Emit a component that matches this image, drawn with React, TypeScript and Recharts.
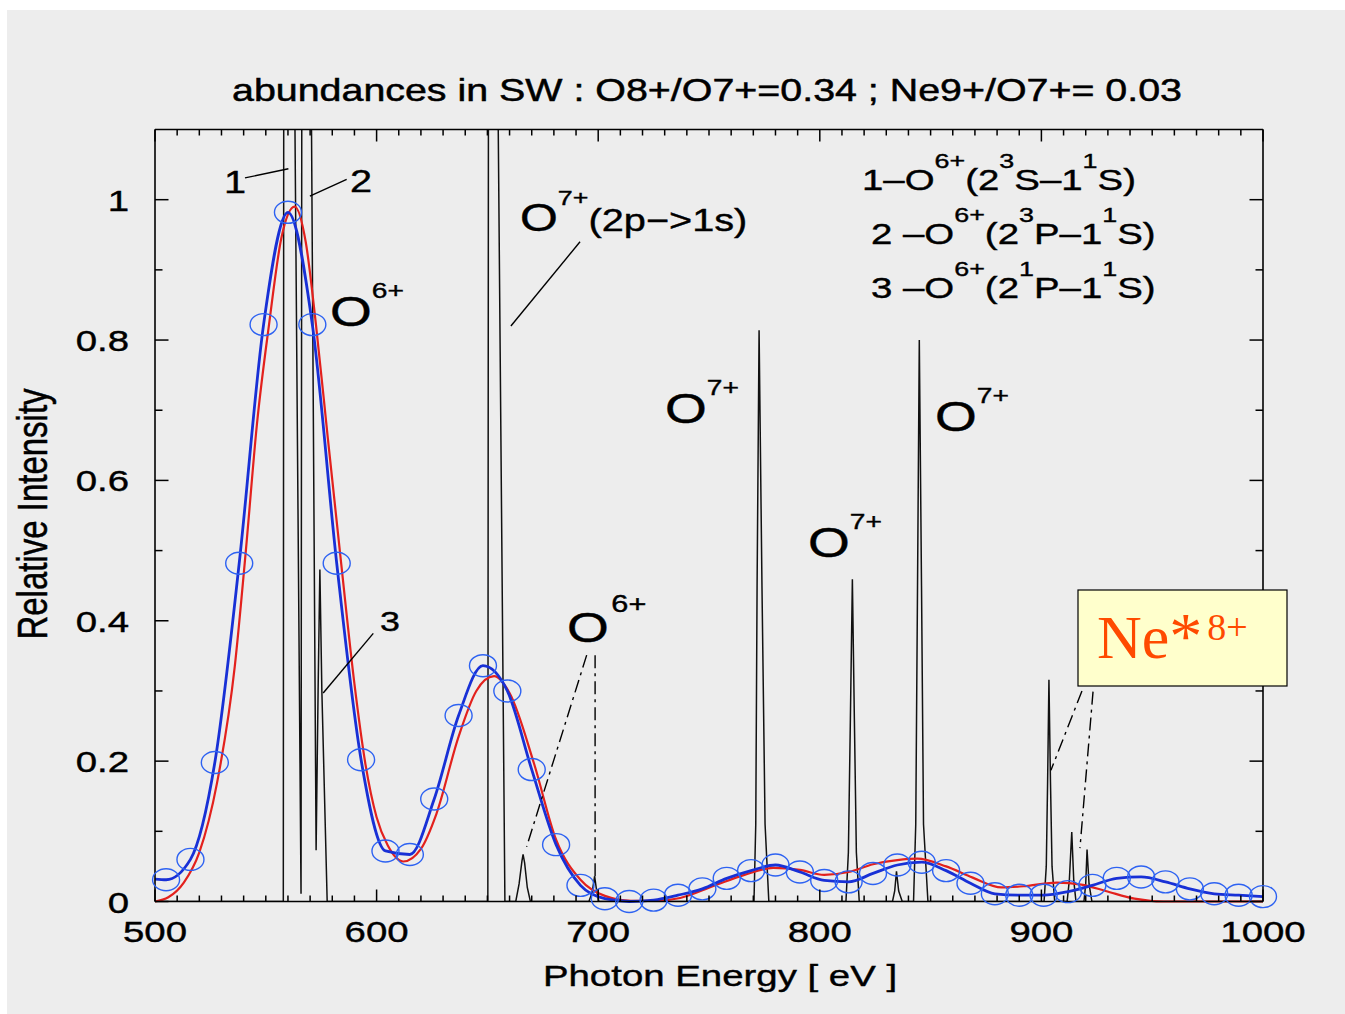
import React from 'react';
import { ComposedChart, Line, XAxis, YAxis, ReferenceLine } from 'recharts';

// ---------------- data ----------------
// Blue curve (with circle markers), photon energy in eV
const blueEnergy = [500, 505, 516, 527, 538, 549, 560, 571, 582, 593, 604, 615, 626, 637, 648, 659, 670, 681, 692, 703, 714, 725, 736, 747, 758, 769, 780, 791, 802, 813, 824, 835, 846, 857, 868, 879, 890, 901, 912, 923, 934, 945, 956, 967, 978, 989, 1000];
const blueIntensity = [0.032, 0.031, 0.060, 0.198, 0.482, 0.822, 0.982, 0.822, 0.482, 0.202, 0.072, 0.067, 0.146, 0.265, 0.336, 0.300, 0.188, 0.081, 0.023, 0.004, 0.000, 0.002, 0.009, 0.018, 0.033, 0.044, 0.052, 0.042, 0.030, 0.028, 0.040, 0.052, 0.056, 0.044, 0.026, 0.011, 0.009, 0.009, 0.014, 0.023, 0.033, 0.035, 0.028, 0.018, 0.011, 0.009, 0.007];

// Red curve
const redEnergy = [500, 506, 513, 520, 528, 536, 541, 546, 551.5, 557, 563, 568, 572.6, 578, 584, 590, 595, 600, 605, 612, 620, 627, 637, 645, 653, 660, 671, 681, 692, 703, 715, 726, 737, 752, 766, 779, 791, 802, 813, 824, 835, 844, 857, 869, 882, 893, 907, 918, 929, 942, 955, 1000];
const redIntensity = [0.000, 0.006, 0.027, 0.070, 0.169, 0.335, 0.500, 0.680, 0.823, 0.945, 0.990, 0.940, 0.823, 0.660, 0.482, 0.310, 0.195, 0.120, 0.080, 0.057, 0.075, 0.125, 0.235, 0.300, 0.321, 0.297, 0.197, 0.088, 0.031, 0.008, 0.001, 0.001, 0.005, 0.022, 0.038, 0.048, 0.045, 0.038, 0.042, 0.053, 0.059, 0.061, 0.050, 0.034, 0.020, 0.022, 0.027, 0.024, 0.015, 0.004, 0.000, 0.000];

// Black high-resolution line spectrum
const spectrumEnergy = [500, 557.9, 558.4, 565.9, 566.8, 572.7, 573.6, 574.4, 575.3, 577.7, 650.2, 650.8, 657.9, 662.8, 664.3, 665.6, 666.1, 666.8, 668.0, 669.4, 695.8, 697.2, 698.4, 699.3, 700.3, 770.3, 771.1, 771.7, 772.6, 773.9, 775.3, 777.0, 811.8, 812.9, 813.8, 814.7, 815.6, 816.5, 817.8, 832.8, 833.8, 834.6, 835.6, 837.2, 842.3, 843.3, 844.1, 844.9, 845.9, 846.8, 848.8, 901.2, 902.2, 902.8, 903.4, 904.1, 904.8, 906.0, 911.6, 912.6, 913.7, 914.6, 915.6, 919.2, 920.0, 920.6, 921.5, 922.8, 1000];
const spectrumIntensity = [0, 0, 3.0, 0.011, 3.0, 0.073, 0.30, 0.473, 0.30, 0, 0, 2.6, 0, 0, 0.025, 0.058, 0.067, 0.055, 0.02, 0, 0, 0.012, 0.036, 0.015, 0, 0, 0.11, 0.45, 0.814, 0.45, 0.11, 0, 0, 0.07, 0.26, 0.459, 0.26, 0.07, 0, 0, 0.015, 0.043, 0.015, 0, 0, 0.11, 0.45, 0.800, 0.45, 0.11, 0, 0, 0.05, 0.17, 0.316, 0.17, 0.05, 0, 0, 0.03, 0.099, 0.03, 0, 0, 0.025, 0.074, 0.025, 0, 0];

// ticks
const xMajorTicks = [500, 600, 700, 800, 900, 1000];
const xMinorTicks = [510, 520, 530, 540, 550, 560, 570, 580, 590, 610, 620, 630, 640, 650, 660, 670, 680, 690, 710, 720, 730, 740, 750, 760, 770, 780, 790, 810, 820, 830, 840, 850, 860, 870, 880, 890, 910, 920, 930, 940, 950, 960, 970, 980, 990];
const yMajorTicks = [0, 0.2, 0.4, 0.6, 0.8, 1];
const yMinorTicks = [0.1, 0.3, 0.5, 0.7, 0.9];
const yTickLabels = ['0', '0.2', '0.4', '0.6', '0.8', '1'];

// annotation leader lines [x1, y1, x2, y2] in data units
const solidLeaders = [
  [540.6, 1.031, 560.2, 1.044],
  [569.9, 1.005, 586.5, 1.029],
  [691.8, 0.940, 660.6, 0.820],
  [598.5, 0.382, 575.9, 0.297],
];
const dashLeaders = [
  [694.8, 0.351, 667.7, 0.078],
  [698.6, 0.351, 698.6, 0.026],
  [918.3, 0.300, 904.3, 0.187],
  [923.3, 0.299, 917.4, 0.076],
];

// ---------------- style ----------------
const SANS = '"Liberation Sans", Arial, Helvetica, sans-serif';
const SERIF = '"Liberation Serif", "Times New Roman", serif';
const SX = 1.28;
const INK = '#000';
const axisStyle = { stroke: INK, strokeWidth: 1.6 };

const xTicks = [...xMajorTicks, ...xMinorTicks].sort((a, b) => a - b);
const yTicks = [...yMajorTicks, ...yMinorTicks].sort((a, b) => a - b);

const BottomTick = (p: any) => {
  const v = p.payload.value;
  const major = xMajorTicks.includes(v);
  return (
    <g>
      <line x1={p.x} y1={p.y} x2={p.x} y2={p.y - (major ? 12 : 6)} stroke={INK} strokeWidth={1.5} />
      {major && (
        <text transform={`translate(${p.x} ${p.y + 40}) scale(${SX} 1)`} textAnchor="middle" fontSize={30} fontFamily={SANS} fill={INK} stroke={INK} strokeWidth={0.4}>
          {String(v)}
        </text>
      )}
    </g>
  );
};
const TopTick = (p: any) => {
  const major = xMajorTicks.includes(p.payload.value);
  return <line x1={p.x} y1={p.y} x2={p.x} y2={p.y + (major ? 12 : 6)} stroke={INK} strokeWidth={1.5} />;
};
const LeftTick = (p: any) => {
  const i = yMajorTicks.indexOf(p.payload.value);
  return (
    <g>
      <line x1={p.x} y1={p.y} x2={p.x + (i >= 0 ? 13.5 : 7.5)} y2={p.y} stroke={INK} strokeWidth={1.5} />
      {i >= 0 && (
        <text transform={`translate(${p.x - 26} ${p.y + 11}) scale(${SX} 1)`} textAnchor="end" fontSize={30} fontFamily={SANS} fill={INK} stroke={INK} strokeWidth={0.4}>
          {yTickLabels[i]}
        </text>
      )}
    </g>
  );
};
const RightTick = (p: any) => {
  const major = yMajorTicks.includes(p.payload.value);
  return <line x1={p.x} y1={p.y} x2={p.x - (major ? 13.5 : 7.5)} y2={p.y} stroke={INK} strokeWidth={1.5} />;
};

const renderEllipse = (p: any) => {
  const k = `e${p.index}`;
  if (!p.payload || p.payload.x === 500) return <g key={k} />;
  return <ellipse key={k} cx={p.cx} cy={p.cy} rx={13.5} ry={11} fill="none" stroke="#2d62f2" strokeWidth={1.4} />;
};

// parts: [text, isSuperscript, optional font size]
type Part = [string, boolean, number?];
function Rich({ x, y, size, parts, sx = SX, supSize, raise, fill = INK, family = SANS, thick = 0.4, supDx = 0 }: any) {
  let up = false;
  const sup = supSize ?? size * 0.7;
  const r = raise ?? size * 0.72;
  const spans = (parts as Part[]).map(([t, s, fs], i) => {
    let dy: number | undefined;
    if (s && !up) { dy = -r; up = true; }
    else if (!s && up) { dy = r; up = false; }
    return (
      <tspan key={i} dy={dy} dx={s && supDx ? supDx : undefined} fontSize={fs ?? (s ? sup : size)}>{t}</tspan>
    );
  });
  return (
    <text transform={`translate(${x} ${y}) scale(${sx} 1)`} fontSize={size} fontFamily={family} fill={fill} stroke={thick ? fill : 'none'} strokeWidth={thick}>
      {spans}
    </text>
  );
}

export default function App() {
  const blueData = blueEnergy.map((x, i) => ({ x, y: blueIntensity[i] }));
  const redData = redEnergy.map((x, i) => ({ x, y: redIntensity[i] }));
  const spectrumData = spectrumEnergy.map((x, i) => ({ x, y: spectrumIntensity[i] }));

  return (
    <div style={{ position: 'fixed', left: 0, top: 0, width: 1345, height: 1014, background: '#fff', overflow: 'hidden' }}>
      <div style={{ position: 'absolute', left: 7, top: 10, width: 1338, height: 1004, background: '#ededed' }} />
      <div style={{ position: 'absolute', left: 0, top: 0 }}>
        <ComposedChart width={1345} height={1014} margin={{ left: 55, right: 72, top: 119.5, bottom: 52.5 }}>
          <XAxis xAxisId="b" type="number" dataKey="x" domain={[500, 1000]} ticks={xTicks} interval={0}
            tickSize={0} tickMargin={0} tickLine={false} tick={BottomTick} height={60} axisLine={axisStyle} />
          <XAxis xAxisId="t" orientation="top" type="number" dataKey="x" domain={[500, 1000]} ticks={xTicks} interval={0}
            tickSize={0} tickMargin={0} tickLine={false} tick={TopTick} height={10} axisLine={axisStyle} allowDataOverflow />
          <YAxis yAxisId="l" type="number" domain={[0, 1.1]} ticks={yTicks} interval={0}
            tickSize={0} tickMargin={0} tickLine={false} tick={LeftTick} width={100} axisLine={axisStyle} />
          <YAxis yAxisId="r" orientation="right" type="number" domain={[0, 1.1]} ticks={yTicks} interval={0}
            tickSize={0} tickMargin={0} tickLine={false} tick={RightTick} width={10} axisLine={axisStyle} allowDataOverflow />
          <YAxis yAxisId="c" type="number" domain={[0, 1.1]} hide width={0} allowDataOverflow />

          <Line xAxisId="b" yAxisId="c" data={spectrumData} dataKey="y" type="linear" stroke="#111" strokeWidth={1.5}
            dot={false} activeDot={false} isAnimationActive={false} />
          <Line xAxisId="b" yAxisId="l" data={redData} dataKey="y" type="monotone" stroke="#e3211d" strokeWidth={2.2}
            dot={false} activeDot={false} isAnimationActive={false} />
          <Line xAxisId="b" yAxisId="l" data={blueData} dataKey="y" type="monotone" stroke="#1830d6" strokeWidth={2.8}
            dot={renderEllipse} activeDot={false} isAnimationActive={false} />

          {solidLeaders.map((s, i) => (
            <ReferenceLine key={`s${i}`} xAxisId="b" yAxisId="l" ifOverflow="visible"
              segment={[{ x: s[0], y: s[1] }, { x: s[2], y: s[3] }]} stroke={INK} strokeWidth={1.4} />
          ))}
          {dashLeaders.map((s, i) => (
            <ReferenceLine key={`d${i}`} xAxisId="b" yAxisId="l" ifOverflow="visible"
              segment={[{ x: s[0], y: s[1] }, { x: s[2], y: s[3] }]} stroke={INK} strokeWidth={1.4} strokeDasharray="13 5 3 5" />
          ))}
        </ComposedChart>
      </div>

      <svg style={{ position: 'absolute', left: 0, top: 0 }} width={1345} height={1014}>
        {/* title */}
        <text x={232} y={101} fontSize={32} fontFamily={SANS} textLength={950} lengthAdjust="spacingAndGlyphs" fill={INK} stroke={INK} strokeWidth={0.5}>
          abundances in SW : O8+/O7+=0.34 ; Ne9+/O7+= 0.03
        </text>
        {/* axis titles */}
        <text transform={`translate(720 986) scale(${SX} 1)`} textAnchor="middle" fontSize={30} fontFamily={SANS} fill={INK} stroke={INK} strokeWidth={0.4}>
          Photon Energy [ eV ]
        </text>
        <text transform={`translate(47 514) scale(${SX} 1) rotate(-90)`} textAnchor="middle" fontSize={33} fontFamily={SANS} fill={INK} stroke={INK} strokeWidth={0.4}>
          Relative Intensity
        </text>

        {/* line labels */}
        <Rich x={224} y={193} size={31} parts={[['1', false]]} />
        <Rich x={350} y={192} size={31} parts={[['2', false]]} />
        <Rich x={380} y={631} size={28} parts={[['3', false]]} />
        <Rich x={330} y={326} size={42} supSize={22} raise={28} parts={[['O', false], ['6+', true]]} />
        <Rich x={520} y={231} size={38} supSize={21} raise={26} parts={[['O', false], ['7+', true], ['(2p\u2212>1s)', false, 31]]} />
        <Rich x={665} y={423} size={42} supSize={22} raise={28} parts={[['O', false], ['7+', true]]} />
        <Rich x={935} y={431} size={42} supSize={22} raise={28} parts={[['O', false], ['7+', true]]} />
        <Rich x={808} y={557} size={42} supSize={22} raise={28} parts={[['O', false], ['7+', true]]} />
        <Rich x={567} y={642} size={42} supSize={24} raise={30} supDx={2} parts={[['O', false], ['6+', true]]} />

        {/* legend of lines */}
        <Rich x={862} y={190} size={30} parts={[['1\u2013O', false], ['6+', true], ['(2', false], ['3', true], ['S\u20131', false], ['1', true], ['S)', false]]} />
        <Rich x={871} y={244} size={30} parts={[['2 \u2013O', false], ['6+', true], ['(2', false], ['3', true], ['P\u20131', false], ['1', true], ['S)', false]]} />
        <Rich x={871} y={298} size={30} parts={[['3 \u2013O', false], ['6+', true], ['(2', false], ['1', true], ['P\u20131', false], ['1', true], ['S)', false]]} />

        {/* Ne box */}
        <rect x={1078} y={590} width={209} height={96} fill="#ffffcc" stroke={INK} strokeWidth={1.2} />
        <Rich x={1097} y={658} size={62} sx={1} supSize={38} raise={18} supDx={5} fill="#ff4a00" family={SERIF} thick={0}
          parts={[['Ne', false], ['*', false, 66], ['8+', true]]} />
      </svg>
    </div>
  );
}
